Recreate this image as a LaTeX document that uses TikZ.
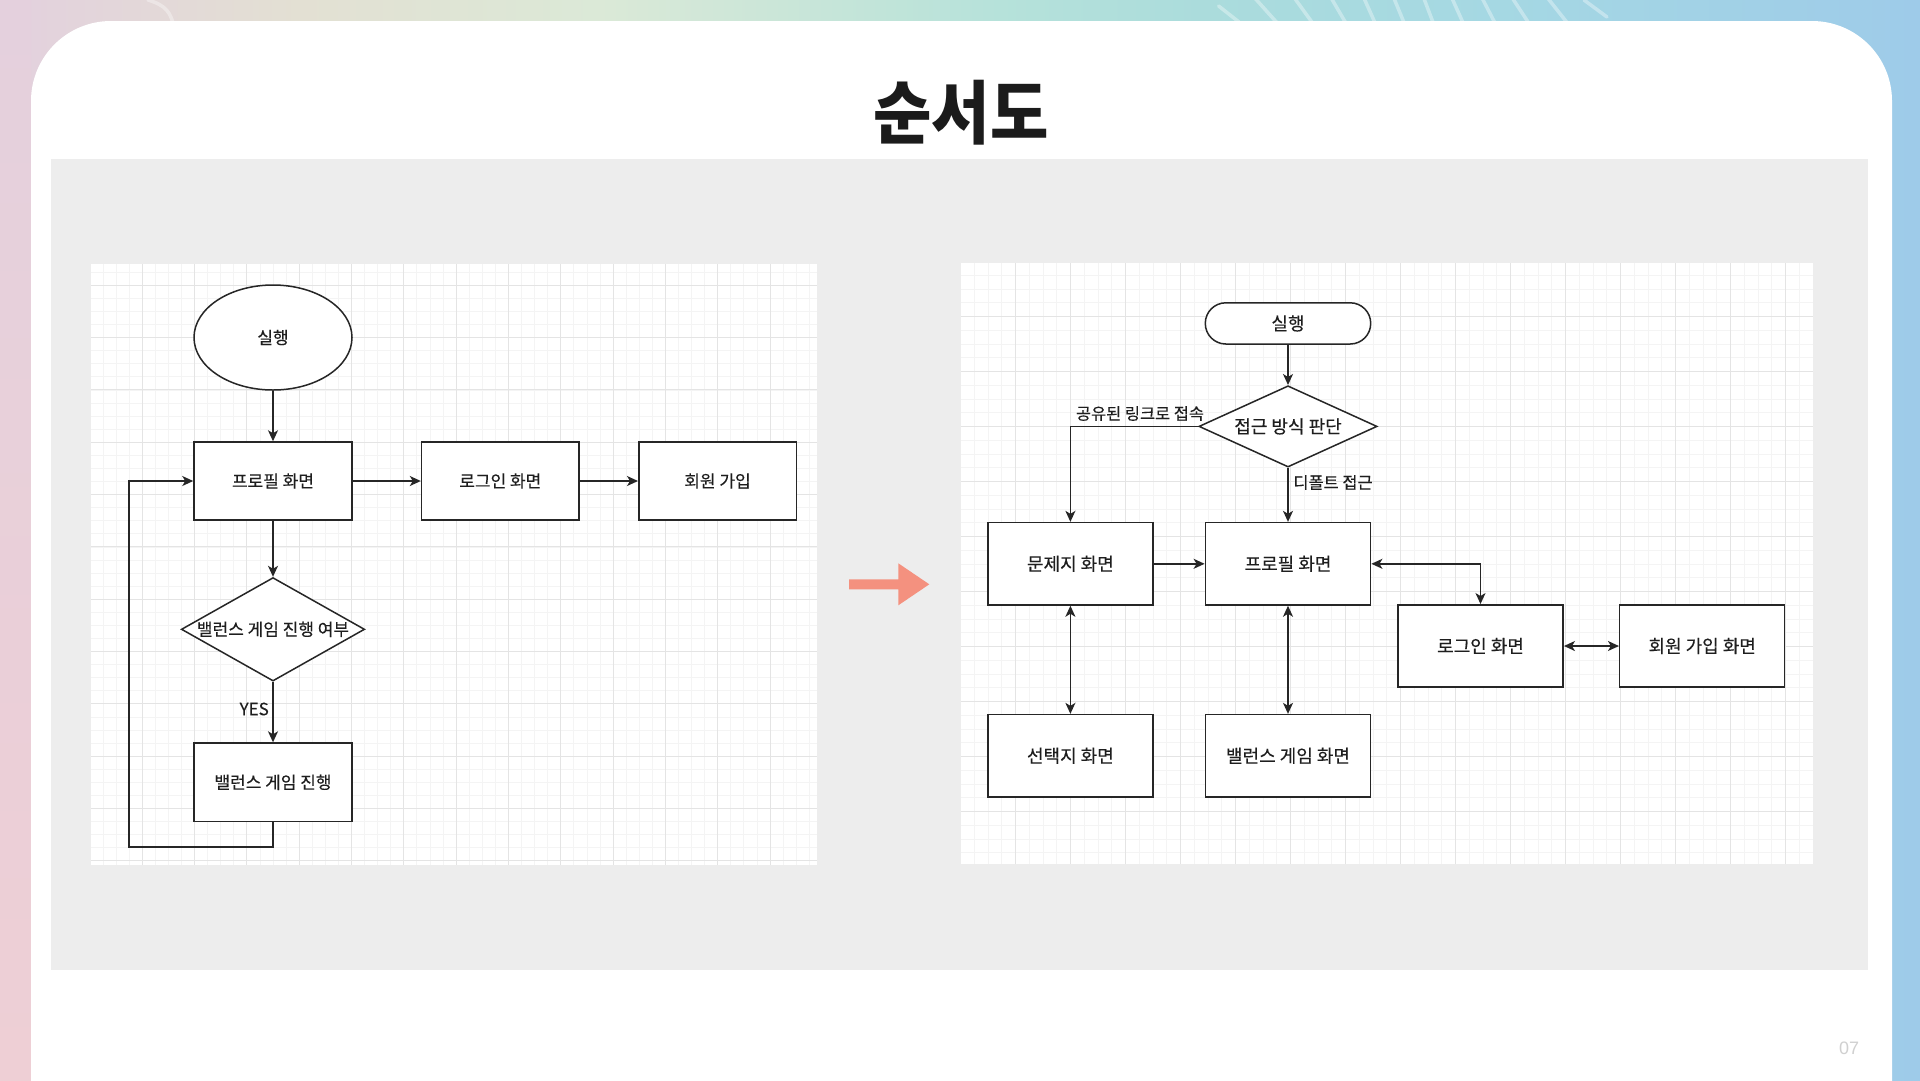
\documentclass[tikz,border=0pt]{standalone}
\usepackage{graphicx}
\usepackage{fontspec}
\setmainfont{Liberation Sans}
\newfontfamily\krfont{Noto Sans CJK KR}
\newfontfamily\krtext[FakeBold=0.3]{Noto Sans CJK KR}
\usetikzlibrary{arrows.meta,shapes.geometric}

\definecolor{bgA}{HTML}{E3D0DE}
\definecolor{bgB}{HTML}{E3E0D3}
\definecolor{bgC}{HTML}{DBE9D7}
\definecolor{bgD}{HTML}{B6E2DA}
\definecolor{bgE}{HTML}{ABDCDC}
\definecolor{bgF}{HTML}{A5D8E3}
\definecolor{bgG}{HTML}{9ECBE9}
\definecolor{leftTop}{HTML}{E4D0DD}
\definecolor{leftBot}{HTML}{EECFD5}
\definecolor{panelcol}{HTML}{EDEDED}
\definecolor{gminor}{HTML}{F4F4F4}
\definecolor{gmajor}{HTML}{E4E4E4}
\definecolor{linecol}{HTML}{262626}
\definecolor{txtcol}{HTML}{1E1E1E}
\definecolor{orangecol}{HTML}{F4917F}
\definecolor{pgcol}{HTML}{D0D0D0}
\definecolor{titlecol}{HTML}{1B1B1B}

\pgfdeclarehorizontalshading{bgshade}{100bp}{color(0bp)=(bgA); color(25bp)=(bgA); color(32.8bp)=(bgB); color(40.6bp)=(bgC); color(51bp)=(bgD); color(56.25bp)=(bgE); color(64bp)=(bgF); color(75bp)=(bgG); color(100bp)=(bgG)}

\tikzset{
  box/.style={draw=linecol, line width=1.5pt, fill=white, rectangle, inner sep=0pt, text=txtcol},
  dia/.style={draw=linecol, line width=1.5pt, fill=white, diamond, inner sep=0pt},
  lfont/.style={font=\krtext\fontsize{17}{19}\selectfont, text=txtcol},
  rfont/.style={font=\krtext\fontsize{18}{20}\selectfont, text=txtcol},
  lblfont/.style={font=\krtext\fontsize{16.4}{18}\selectfont, text=txtcol, inner sep=0pt},
  tip/.style={},
  conn/.style={draw=linecol, line width=1.5pt, -{Stealth[length=11pt,width=10pt,inset=3pt]}},
  biconn/.style={draw=linecol, line width=1.5pt, {Stealth[length=11pt,width=10pt,inset=3pt]}-{Stealth[length=11pt,width=10pt,inset=3pt]}},
  gridmin/.style={draw=gminor, line width=0.8pt},
  gridmaj/.style={draw=gmajor, line width=1pt},
  deco/.style={draw=white, draw opacity=0.35, line width=3.5pt, line cap=round},
}

\begin{document}
\begin{tikzpicture}[x=1pt,y=-1pt]
\useasboundingbox (0,0) rectangle (1920,1080);
\clip (0,0) rectangle (1920,1080);

% background frame
\shade[shading=bgshade] (0,0) rectangle (1920,1080);
\shade[top color=leftTop, bottom color=leftBot] (0,0) rectangle (31,1080);

% decorative strokes at the top
\draw[deco] (148,0) .. controls (165,5) and (172,12) .. (174,30);
\draw[deco] (1218.6,6) -- (1244,26);
\foreach \a/\b in {1253/1279,1293/1314,1330/1347,1363/1376,1393/1405,1423/1434,1451/1464,1481/1496,1511/1530,1546/1569}{
  \draw[deco] (\a,-4) -- (\b,25);
}
\draw[deco] (1584,0) -- (1607,17);

% white card
\fill[white, rounded corners=80pt] (31,21) rectangle (1892,1160);

% title
\node[font=\krfont\bfseries\fontsize{69}{69}\selectfont, text=titlecol, inner sep=0pt] (title) at (961,113) {\scalebox{0.92}[1]{순서도}};

% gray panel
\fill[panelcol] (51,159) rectangle (1868,970);

% left grid panel
\begin{scope}
  \clip (91,264) rectangle (817,865);
  \fill[white] (91,264) rectangle (817,865);
  \foreach \i in {0,...,56} { \draw[gridmin] ({89.88+13.08*\i},264) -- ++(0,601); }
  \foreach \i in {0,...,47} { \draw[gridmin] (91,{259.14+13.08*\i}) -- ++(726,0); }
  \foreach \i in {0,...,14} { \draw[gridmaj] ({89.88+52.32*\i},264) -- ++(0,601); }
  \foreach \i in {0,...,12} { \draw[gridmaj] (91,{232.98+52.32*\i}) -- ++(726,0); }
\end{scope}

% right grid panel
\begin{scope}
  \clip (961,263) rectangle (1813,864);
  \fill[white] (961,263) rectangle (1813,864);
  \foreach \i in {0,...,63} { \draw[gridmin] ({960.5+13.75*\i},263) -- ++(0,601); }
  \foreach \i in {0,...,44} { \draw[gridmin] (961,{261.4+13.75*\i}) -- ++(852,0); }
  \foreach \i in {0,...,16} { \draw[gridmaj] ({960.5+55*\i},263) -- ++(0,601); }
  \foreach \i in {0,...,11} { \draw[gridmaj] (961,{261.4+55*\i}) -- ++(852,0); }
\end{scope}

% ---------- left flowchart ----------
\node[draw=linecol, line width=1.5pt, fill=white, ellipse, inner sep=0pt, minimum width=158pt, minimum height=105pt, lfont] (L0) at (273,337.5) {실행};
\node[box, lfont, minimum width=158pt, minimum height=78pt] (L1) at (273,481) {프로필 화면};
\node[box, lfont, minimum width=157.5pt, minimum height=78pt] (L2) at (500.3,481) {로그인 화면};
\node[box, lfont, minimum width=157.5pt, minimum height=78pt] (L3) at (717.5,481) {회원 가입};
\node[dia, minimum width=183.3pt, minimum height=103.5pt] (L4) at (273,629.3) {};
\node[lfont, inner sep=0pt] (L4t) at (L4.center) {밸런스 게임 진행 여부};
\node[box, lfont, minimum width=158pt, minimum height=78.5pt] (L5) at (273,782.3) {밸런스 게임 진행};
\node[lfont, anchor=east, inner sep=0pt] (yes) at (269,709) {YES};

\coordinate (lp1) at (273,846.8);
\coordinate (lp2) at (128.8,846.8);

\draw[conn] (L0.south) -- (L1.north);
\draw[conn] (L1.east) -- (L2.west);
\draw[conn] (L2.east) -- (L3.west);
\draw[conn] (L1.south) -- (L4.north);
\draw[conn] (L4.south) -- (L5.north);
\draw[conn] (L5.south) -- (lp1) -- (lp2) |- (L1.west);

% ---------- orange arrow ----------
\fill[orangecol] (849,579.3) -- (898.3,579.3) -- (898.3,563.3) -- (929.3,584.3) -- (898.3,605.3) -- (898.3,589.3) -- (849,589.3) -- cycle;

% ---------- right flowchart ----------
\node[box, rfont, rounded corners=20.5pt, minimum width=165.4pt, minimum height=41.2pt] (R0) at (1288,323.4) {실행};
\node[dia, minimum width=178.2pt, minimum height=81.3pt] (R1) at (1288,426.4) {};
\node[rfont, inner sep=0pt] (R1t) at (R1.center) {접근 방식 판단};
\node[box, rfont, minimum width=165.3pt, minimum height=82.4pt] (R2) at (1070.4,563.8) {문제지 화면};
\node[box, rfont, minimum width=165.3pt, minimum height=82.4pt] (R3) at (1288,563.8) {프로필 화면};
\node[box, rfont, minimum width=165.4pt, minimum height=82.4pt] (R4) at (1480.5,646) {로그인 화면};
\node[box, rfont, minimum width=165pt, minimum height=82.4pt] (R5) at (1702.2,646) {회원 가입 화면};
\node[box, rfont, minimum width=165.3pt, minimum height=82.4pt] (R6) at (1070.4,755.8) {선택지 화면};
\node[box, rfont, minimum width=165.3pt, minimum height=82.4pt] (R7) at (1288,755.8) {밸런스 게임 화면};

\node[lblfont] (lbl1) at (1140,413.5) {공유된 링크로 접속};
\node[lblfont] (lbl2) at (1333,482.5) {디폴트 접근};

\draw[conn] (R0.south) -- (R1.north);
\draw[conn] (R1.west) -| (R2.north);
\draw[conn] (R1.south) -- (R3.north);
\draw[conn] (R2.east) -- (R3.west);
\draw[biconn] (R3.east) -| (R4.north);
\draw[biconn] (R4.east) -- (R5.west);
\draw[biconn] (R2.south) -- (R6.north);
\draw[biconn] (R3.south) -- (R7.north);

% page number
\node[font=\fontsize{18}{18}\selectfont, text=pgcol, inner sep=0pt] (pg) at (1849,1048.5) {07};
\end{tikzpicture}
\end{document}
